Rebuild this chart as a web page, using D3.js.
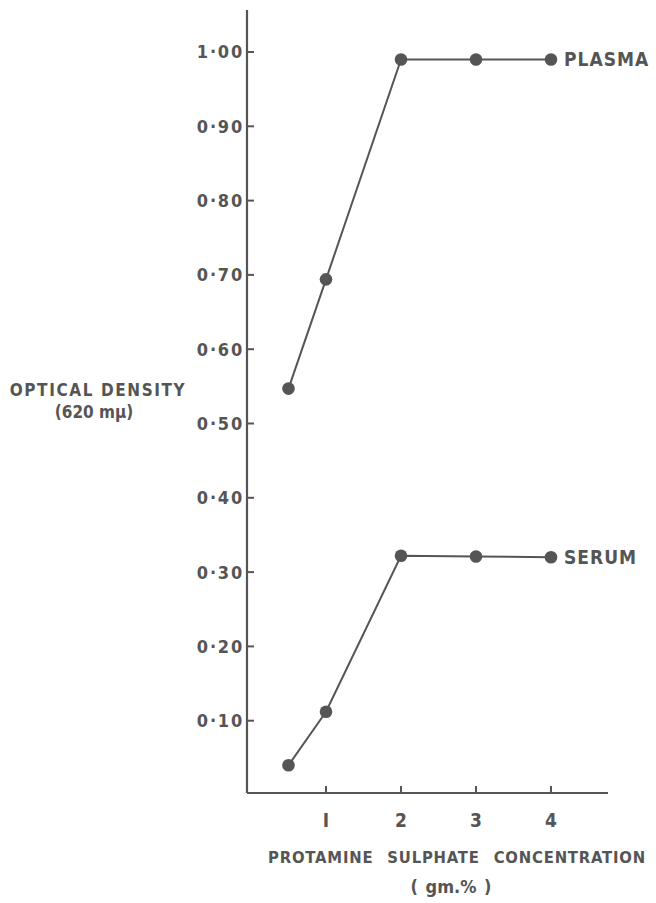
<!DOCTYPE html>
<html>
<head>
<meta charset="utf-8">
<script src="https://cdn.jsdelivr.net/npm/d3@7"></script>
<style>
  body { margin: 0; background: #fff; }
  svg { display: block; }
  text { font-family: "DejaVu Sans Condensed", "DejaVu Sans", sans-serif; font-weight: bold; fill: #555; }
</style>
</head>
<body>
<svg id="chart" width="656" height="903"></svg>
<script>
// protamine sulphate concentration (gm.%)
const concentration = [0.5, 1, 2, 3, 4];
const plasma = [0.547, 0.694, 0.99, 0.99, 0.99];
const serum = [0.04, 0.112, 0.322, 0.321, 0.32];
const yTicks = [0.1, 0.2, 0.3, 0.4, 0.5, 0.6, 0.7, 0.8, 0.9, 1.0];
const xTicks = [1, 2, 3, 4];
const seriesNames = ["PLASMA", "SERUM"];

const ink = "#555";
const svg = d3.select("#chart");

const x = d3.scaleLinear().domain([0, 4]).range([251, 551]);
const y = d3.scaleLinear().domain([0, 1]).range([795, 52]);

// y axis (ticks point inward, labels on the left)
const yAxis = svg.append("g").attr("transform", `translate(${x(0) - 4},0)`);
yAxis.append("line")
  .attr("y1", 10).attr("y2", y(0) - 2)
  .attr("stroke", ink).attr("stroke-width", 2.2);
yTicks.forEach(t => {
  yAxis.append("line")
    .attr("x1", 0).attr("x2", 7)
    .attr("y1", y(t)).attr("y2", y(t))
    .attr("stroke", ink).attr("stroke-width", 2);
  yAxis.append("text")
    .attr("x", -3).attr("y", y(t)).attr("dy", "0.36em")
    .attr("text-anchor", "end")
    .attr("font-size", 18).attr("letter-spacing", 1.8)
    .text(d3.format(".2f")(t).replace(".", "·"));
});

// x axis
const xAxis = svg.append("g").attr("transform", `translate(0,${y(0) - 2})`);
xAxis.append("line")
  .attr("x1", x(0) - 4).attr("x2", 608)
  .attr("stroke", ink).attr("stroke-width", 2.2);
xTicks.forEach(t => {
  xAxis.append("line")
    .attr("x1", x(t)).attr("x2", x(t))
    .attr("y1", 0).attr("y2", -7)
    .attr("stroke", ink).attr("stroke-width", 2);
  xAxis.append("text")
    .attr("x", x(t)).attr("y", 34)
    .attr("text-anchor", "middle")
    .attr("font-size", 19)
    .text(t === 1 ? "I" : t);
});

// titles
svg.append("text").attr("x", 98).attr("y", 396)
  .attr("text-anchor", "middle").attr("font-size", 17).attr("letter-spacing", 1.6)
  .text("OPTICAL DENSITY");
svg.append("text").attr("x", 94).attr("y", 418)
  .attr("text-anchor", "middle").attr("font-size", 17)
  .text("(620 mμ)");
svg.append("text").attr("x", 457).attr("y", 863)
  .attr("text-anchor", "middle").attr("font-size", 16.5).attr("letter-spacing", 0.8)
  .attr("word-spacing", 8)
  .text("PROTAMINE SULPHATE CONCENTRATION");
svg.append("text").attr("x", 451).attr("y", 893)
  .attr("text-anchor", "middle").attr("font-size", 18).attr("word-spacing", 2)
  .text("( gm.% )");

// series
const line = d3.line().x(d => x(d[0])).y(d => y(d[1]));
[plasma, serum].forEach((vals, i) => {
  const pts = concentration.map((c, j) => [c, vals[j]]);
  svg.append("path")
    .attr("d", line(pts))
    .attr("fill", "none").attr("stroke", ink).attr("stroke-width", 2);
  svg.selectAll(null).data(pts).enter().append("circle")
    .attr("cx", d => x(d[0])).attr("cy", d => y(d[1]))
    .attr("r", 6.3).attr("fill", ink);
  const last = pts[pts.length - 1];
  svg.append("text")
    .attr("x", x(last[0]) + 13).attr("y", y(last[1])).attr("dy", "0.36em")
    .attr("font-size", 19).attr("letter-spacing", 1)
    .text(seriesNames[i]);
});
</script>
</body>
</html>
